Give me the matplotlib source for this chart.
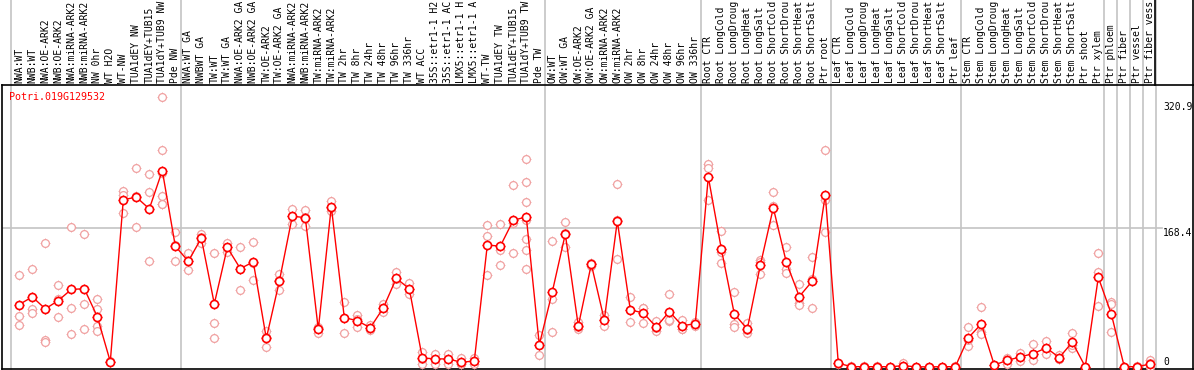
import numpy as np
import matplotlib
matplotlib.use("Agg")
import matplotlib.pyplot as plt
from matplotlib.transforms import blended_transform_factory

plt.rcParams["font.family"] = ["DejaVu Sans Mono"]

GENE = "Potri.019G129532"

labels = [
    "NWA:WT", "NWB:WT", "NWA:OE-ARK2", "NWB:OE-ARK2", "NWA:miRNA-ARK2", "NWB:miRNA-ARK2",
    "NW 0hr", "WT H2O", "WT-NW", "TUA1dEY NW", "TUA1dEY+TUB15", "TUA1dY+TUB9 NW", "Pde NW",
    "NWA:WT GA", "NWBWT GA", "TW:WT", "TW:WT GA", "NWA:OE-ARK2 GA", "NWB:OE-ARK2 GA",
    "TW:OE-ARK2", "TW:OE-ARK2 GA", "NWA:miRNA-ARK2", "NWB:miRNA-ARK2", "TW:miRNA-ARK2",
    "TW:miRNA-ARK2", "TW 2hr", "TW 8hr", "TW 24hr", "TW 48hr", "TW 96hr", "TW 336hr",
    "WT ACC", "35S::etr1-1 H2", "35S::etr1-1 AC", "LMX5::etr1-1 H", "LMX5::etr1-1 A",
    "WT-TW", "TUA1dEY TW", "TUA1dEY+TUB15", "TUA1dY+TUB9 TW", "Pde TW",
    "OW:WT", "OW:WT GA", "OW:OE-ARK2", "OW:OE-ARK2 GA", "OW:miRNA-ARK2", "OW:miRNA-ARK2",
    "OW 2hr", "OW 8hr", "OW 24hr", "OW 48hr", "OW 96hr", "OW 336hr",
    "Root CTR", "Root LongCold", "Root LongDroug", "Root LongHeat", "Root LongSalt",
    "Root ShortCold", "Root ShortDrou", "Root ShortHeat", "Root ShortSalt", "Ptr root",
    "Leaf CTR", "Leaf LongCold", "Leaf LongDroug", "Leaf LongHeat", "Leaf LongSalt",
    "Leaf ShortCold", "Leaf ShortDrou", "Leaf ShortHeat", "Leaf ShortSalt", "Ptr leaf",
    "Stem CTR", "Stem LongCold", "Stem LongDroug", "Stem LongHeat", "Stem LongSalt",
    "Stem ShortCold", "Stem ShortDrou", "Stem ShortHeat", "Stem ShortSalt", "Ptr shoot",
    "Ptr xylem", "Ptr phloem", "Ptr fiber", "Ptr vessel", "Ptr fiber vess",
]

means = [
    75.7, 85.0, 70.4, 80.5, 94.0, 94.8, 61.0, 6.5, 202.6, 205.8, 191.6, 237.9, 146.4,
    128.1, 156.2, 76.5, 144.8, 119.2, 127.3, 34.6, 103.7, 182.6, 181.0, 45.5, 194.4,
    59.8, 56.1, 47.6, 71.6, 107.4, 94.8, 11.0, 9.8, 9.8, 5.7, 7.3, 147.7, 146.4, 177.8,
    181.8, 26.8,
    91.1, 161.1, 49.6, 124.5, 57.0, 176.9, 69.2, 65.5, 48.4, 67.1, 50.0, 52.5,
    230.3, 143.2, 64.3, 46.0, 123.2, 192.8, 126.9, 85.4, 104.1, 208.7,
    4.5, 0.5, 0.3, 0.4, 0.3, 1.6, 0.2, 0.2, 0.3, 0.4,
    35.4, 52.1, 2.4, 8.1, 12.2, 16.3, 23.2, 11.4, 30.1, 0.3,
    108.6, 64.3, 0.2, 0.5, 3.5,
]

replicates = [
    [111.9, 61.8, 50.8], [119.2, 70.8, 65.5], [150.1, 32.9, 30.1], [98.8, 60.6, 82.0],
    [169.6, 71.6, 39.9], [161.1, 76.9, 46.0], [82.6, 70.4, 50.0, 43.1], [7.5, 6.0, 6.0],
    [212.7, 208.7, 186.3], [241.2, 169.6, 206.6], [233.9, 211.9, 129.0],
    [326.6, 263.2, 235.5, 207.4, 197.7, 197.0], [163.1, 128.1, 148.0],
    [137.9, 117.5, 128.9], [161.1, 149.7, 157.8], [138.7, 53.3, 35.4], [149.7, 139.1, 145.6],
    [145.2, 93.6, 118.8], [150.9, 104.9, 126.1], [43.1, 24.4, 36.3], [112.3, 93.6, 105.2],
    [191.6, 173.3, 182.9], [190.4, 171.2, 181.4], [48.0, 41.1, 47.4], [201.3, 189.5, 192.4],
    [78.5, 41.1, 59.8], [62.6, 48.0, 57.7], [50.9, 44.8, 47.1], [76.5, 66.3, 72.0],
    [114.7, 100.9, 106.6], [101.6, 88.7, 94.1], [18.7, 4.1, 10.2], [15.5, 4.1, 9.8],
    [16.3, 4.0, 9.1], [10.6, 3.3, 3.2], [10.6, 4.1, 7.2], [172.1, 158.6, 111.0],
    [173.3, 141.5, 124.0], [220.5, 174.1, 137.5],
    [252.2, 224.2, 199.7, 178.2, 154.6, 141.2, 119.2], [39.0, 14.3, 27.1],
    [152.1, 81.8, 42.7], [175.3, 145.6, 162.4], [54.1, 46.0, 48.7], [126.1, 122.8, 124.6],
    [63.5, 50.0, 57.5], [221.7, 131.4, 177.6], [84.2, 54.5, 68.9], [72.0, 53.3, 71.2],
    [55.3, 43.1, 46.8], [87.9, 56.1, 57.3], [57.4, 46.0, 46.6], [55.0, 50.0, 52.5],
    [246.5, 241.2, 202.6], [164.7, 139.5, 126.5], [90.3, 51.6, 48.8], [52.9, 40.7, 44.4],
    [129.3, 113.1, 127.2], [211.9, 195.2, 171.7], [144.8, 119.2, 113.9],
    [100.1, 77.3, 75.7], [133.0, 106.2, 71.6], [262.4, 201.7, 163.5],
    [5.0, 4.0, 4.5], [1.0, 0.3, 0.2], [1.6, 0.1, 0.1], [0.8, 0.2, 0.2], [0.5, 0.2, 0.2],
    [4.5, 0.2, 0.1], [0.3, 0.2, 0.1], [0.3, 0.2, 0.1], [0.5, 0.2, 0.2], [1.2, 0.1, 0.1],
    [48.0, 25.2, 33.0], [72.8, 42.7, 39.9], [3.0, 2.0, 2.2], [11.4, 4.1, 8.8],
    [17.5, 7.3, 11.8], [27.7, 8.1, 15.5], [30.9, 15.5, 23.2], [14.6, 9.8, 9.8],
    [40.7, 22.8, 26.8], [0.5, 0.2, 0.2],
    [137.9, 115.1, 74.1], [79.3, 76.5, 41.9], [0.3, 0.2, 0.1], [1.0, 0.3, 0.2],
    [8.2, 5.3, 0.5],
]

# columns after which a grey separator is drawn
group_ends = [12, 40, 52, 62, 72, 83, 84, 85, 86, 87]
y_ticks = [320.9, 168.4, 0]
grid_value = 168.4

RED = "#ff0000"
PINK = "#f0a0a0"
GREY = "#c4c4c4"

W, H = 1194, 370
fig = plt.figure(figsize=(W / 100, H / 100), dpi=100)
left_px, right_px, top_px, bottom_px = 1.7, 1193.3, 85, 368.7
ax = fig.add_axes([left_px / W, (H - bottom_px) / H,
                   (right_px - left_px) / W, (bottom_px - top_px) / H])

col_w, x0_px = 13.0, 19.3
ax.set_xlim((left_px - x0_px) / col_w, (right_px - x0_px) / col_w)
zero_px, px_per_unit = 367.0, 0.8255
ax.set_ylim((zero_px - bottom_px) / px_per_unit, (zero_px - top_px) / px_per_unit)
ax.set_xticks([])
ax.set_yticks([])
for sp in ax.spines.values():
    sp.set_linewidth(1.2)
    sp.set_color("black")

trans = blended_transform_factory(ax.transData, ax.transAxes)
top_ext = 1 + top_px / (bottom_px - top_px)

# grey separators through label area and plot
seps = [(10.7 - x0_px) / col_w] + [g + 0.42 for g in group_ends]
for s in seps:
    ax.plot([s, s], [0, top_ext], transform=trans, color=GREY, lw=1.2,
            clip_on=False, zorder=1)

# label box right edge and figure right edge
lab_right = (1155 - x0_px) / col_w
ax.plot([lab_right, lab_right], [1, top_ext], transform=trans, color="black",
        lw=1.2, clip_on=False, zorder=2)
ax.plot([ax.get_xlim()[1]] * 2, [1, top_ext], transform=trans, color="black",
        lw=1.2, clip_on=False, zorder=2)

# horizontal grid line
grid_end = (1162 - x0_px) / col_w
ax.plot([ax.get_xlim()[0], grid_end], [grid_value, grid_value], color=GREY,
        lw=1.2, zorder=1)

x = np.arange(len(labels))

# replicates
rx = [i for i, reps in enumerate(replicates) for _ in reps]
ry = [v for reps in replicates for v in reps]
ax.plot(rx, ry, linestyle="none", marker="+", ms=7.2, mew=0.6, color=PINK, zorder=3)
ax.plot(rx, ry, linestyle="none", marker="o", ms=5.6, mew=0.9, mfc="white",
        mec=PINK, zorder=3)

# mean line
ax.plot(x, means, color=RED, lw=1.0, zorder=4)
ax.plot(x, means, linestyle="none", marker="+", ms=7.4, mew=0.8, color=RED, zorder=5)
ax.plot(x, means, linestyle="none", marker="o", ms=5.8, mew=1.2, mfc="white",
        mec=RED, zorder=6)

# column labels
lab_y = 1 + 2 / (bottom_px - top_px)
for i, lab in enumerate(labels):
    ax.text(i, lab_y, lab, transform=trans, rotation=90, ha="center", va="bottom",
            fontsize=7, color="black", clip_on=False)

# value labels on the right
tick_x = (1163 - x0_px) / col_w
for v in y_ticks:
    ax.text(tick_x, v, f"{v:g}", ha="left", va="top" if v > 0 else "bottom",
            fontsize=7, color="black")

ax.text(0.0064, 0.959, GENE, transform=ax.transAxes, ha="left", va="center",
        fontsize=7.2, color=RED)

fig.savefig("out.png", dpi=100)
